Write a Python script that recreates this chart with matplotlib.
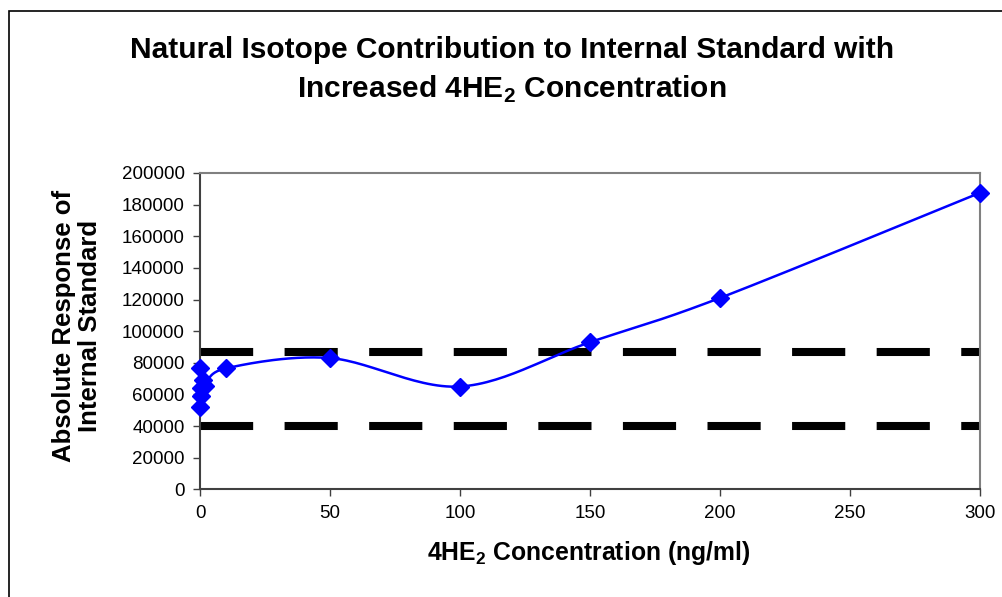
import numpy as np
import matplotlib
matplotlib.use('Agg')
import matplotlib.pyplot as plt
from matplotlib.patches import Rectangle

plt.rcParams['font.family'] = ['Liberation Sans', 'DejaVu Sans']
plt.rcParams['mathtext.fontset'] = 'custom'
plt.rcParams['mathtext.rm'] = 'Liberation Sans'
plt.rcParams['mathtext.bf'] = 'Liberation Sans:bold'

# Дані
conc = [0, 0.1, 0.25, 0.5, 1, 2, 10, 50, 100, 150, 200, 300]
response = [76500, 52000, 59000, 64000, 69000, 65500, 76500, 83000, 65000, 93000, 121000, 187500]
upper_limit = 87000
lower_limit = 40000

title = 'Natural Isotope Contribution to Internal Standard with\nIncreased 4HE$_\\mathbf{2}$ Concentration'
xlabel = '4HE$_\\mathbf{2}$ Concentration (ng/ml)'
ylabel = 'Absolute Response of\nInternal Standard'

W, H = 1002, 597
fig = plt.figure(figsize=(W / 100, H / 100), dpi=100)
ax = fig.add_axes([200 / W, 1 - 489.3 / H, 780 / W, 316.3 / H])

xmax, ymax = 300, 200000


def smooth(xs, ys, n=30):
    # згладжена лінія як в Excel (Безьє з натягом 1/6), у піксельному масштабі
    sx, sy = 780 / xmax, 316.3 / ymax
    p = np.column_stack([np.array(xs) * sx, np.array(ys) * sy])
    pts = [p[0]] + list(p) + [p[-1]]
    out = []
    t = np.linspace(0, 1, n)[:, None]
    for i in range(1, len(pts) - 2):
        p0, p1, p2, p3 = pts[i - 1], pts[i], pts[i + 1], pts[i + 2]
        b1 = p1 + (p2 - p0) / 6
        b2 = p2 - (p3 - p1) / 6
        seg = ((1 - t) ** 3) * p1 + 3 * ((1 - t) ** 2) * t * b1 + 3 * (1 - t) * t ** 2 * b2 + t ** 3 * p2
        out.append(seg)
    out = np.vstack(out)
    return out[:, 0] / sx, out[:, 1] / sy


cx, cy = smooth(conc, response)
ax.plot(cx, cy, color='#0000FF', lw=1.8, zorder=3, clip_on=False)
ax.plot(conc, response, 'D', color='#0000FF', markersize=9.3, zorder=4, clip_on=False)

for lim in (upper_limit, lower_limit):
    ax.axhline(lim, color='black', lw=5.8, dashes=(6.6, 3.9), dash_capstyle='butt', zorder=2)

ax.set_xlim(0, xmax)
ax.set_ylim(0, ymax)
ax.set_xticks(np.arange(0, 301, 50))
ax.set_yticks(np.arange(0, 200001, 20000))
ax.tick_params(direction='out', length=5, width=1, labelsize=13.5, pad=6, colors='#404040', labelcolor='black')

for side in ('top', 'right'):
    ax.spines[side].set_color('#808080')
    ax.spines[side].set_linewidth(1.5)
for side in ('left', 'bottom'):
    ax.spines[side].set_color('#404040')
    ax.spines[side].set_linewidth(1.5)

fig.text(512 / W, 1 - 70.5 / H, title, ha='center', va='center', fontsize=21.5,
         fontweight='bold', linespacing=1.42)
fig.text(589 / W, 1 - 553 / H, xlabel, ha='center', va='center', fontsize=17.8, fontweight='bold')
fig.text(77 / W, 1 - 326 / H, ylabel, ha='center', va='center', fontsize=18.5,
         fontweight='bold', rotation=90, linespacing=1.15)

fig.patches.append(Rectangle((9 / W, -0.1), 1.2, 1.1 - 11 / H, transform=fig.transFigure,
                             fill=False, edgecolor='black', lw=1.2))

fig.savefig('out.png', dpi=100)
